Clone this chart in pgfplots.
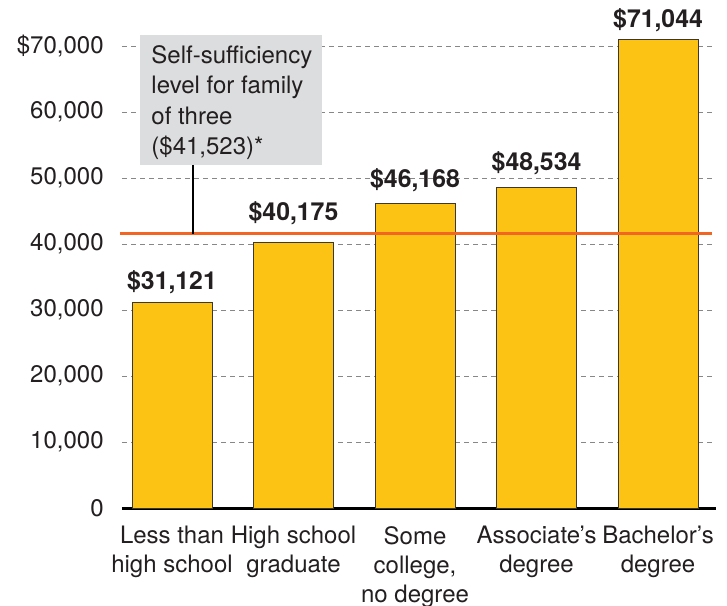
\documentclass[border=0pt]{standalone}
\usepackage{fontspec}
\setmainfont{TeX Gyre Heros}
\usepackage{pgfplots}
\usepackage{pgfplotstable}
\pgfplotsset{compat=1.18}
\definecolor{baryellow}{RGB}{253,195,20}
\definecolor{barline}{RGB}{60,55,50}
\definecolor{reforange}{RGB}{242,101,34}
\definecolor{boxgray}{RGB}{220,221,222}
\definecolor{gridgray}{RGB}{135,135,135}
\definecolor{txt}{RGB}{35,31,32}
\pgfplotstableread{
x y off
0 31121 6.5
1 40175 11
2 46168 8
3 48534 8.5
4 71044 6
}\earnings
\begin{document}
\begin{tikzpicture}
\begin{axis}[
  scale only axis, width=297pt, height=237.6pt,
  xmin=-0.4115, xmax=4.477, ymin=0, ymax=72000,
  clip=false,
  scaled y ticks=false,
  axis lines=left,
  y axis line style={draw=none},
  x axis line style={-, line width=1.5pt, black},
  major tick length=0pt,
  xtick={0,1,2,3,4},
  xticklabels={{Less than\\high school},{High school\\graduate},{Some\\college,\\no degree},{Associate’s\\degree},{Bachelor’s\\degree}},
  ytick={0,10000,20000,30000,40000,50000,60000,70000},
  yticklabels={0,{10,000},{20,000},{30,000},{40,000},{50,000},{60,000},{\$70,000}},
  ymajorgrids,
  grid style={gridgray, line width=0.5pt, dash pattern=on 2.5pt off 2pt},
  tick label style={font=\fontsize{12}{14.5}\selectfont, text=txt},
  yticklabel style={inner sep=0pt, xshift=-9pt},
  xticklabel style={inner sep=0pt, yshift=-9pt, align=center},
  /pgf/number format/assume math mode=true,
]
\addplot[ybar, bar width=40pt, fill=baryellow, draw=barline, line width=0.5pt,
  visualization depends on={\thisrow{off} \as \myoff},
  nodes near coords={\$\pgfmathprintnumber[fixed,precision=0,1000 sep={,}]{\pgfplotspointmeta}},
  every node near coord/.append style={anchor=base, inner sep=0pt, yshift=\myoff pt, font=\fontsize{12.4}{14}\selectfont\bfseries, text=txt},
] table[x=x, y=y] {\earnings};
\addplot[reforange, line width=1.5pt] coordinates {(-0.428,41523) (4.444,41523)};
\fill[boxgray] (axis cs:-0.263,52000) rectangle (axis cs:1.235,71700);
\draw[black, line width=0.6pt] (axis cs:0.173,52000) -- (axis cs:0.173,41523);
\node[anchor=north west, align=left, inner sep=0pt, text=txt, font=\fontsize{12}{15.3}\selectfont]
  at ([xshift=5.5pt,yshift=-5pt]axis cs:-0.263,71700) {Self-sufficiency\\level for family\\of three\\(\$41,523)*};
\end{axis}
\pgfresetboundingbox
\useasboundingbox (-61pt,-48.5pt) rectangle (302.5pt,254pt);
\end{tikzpicture}
\end{document}
